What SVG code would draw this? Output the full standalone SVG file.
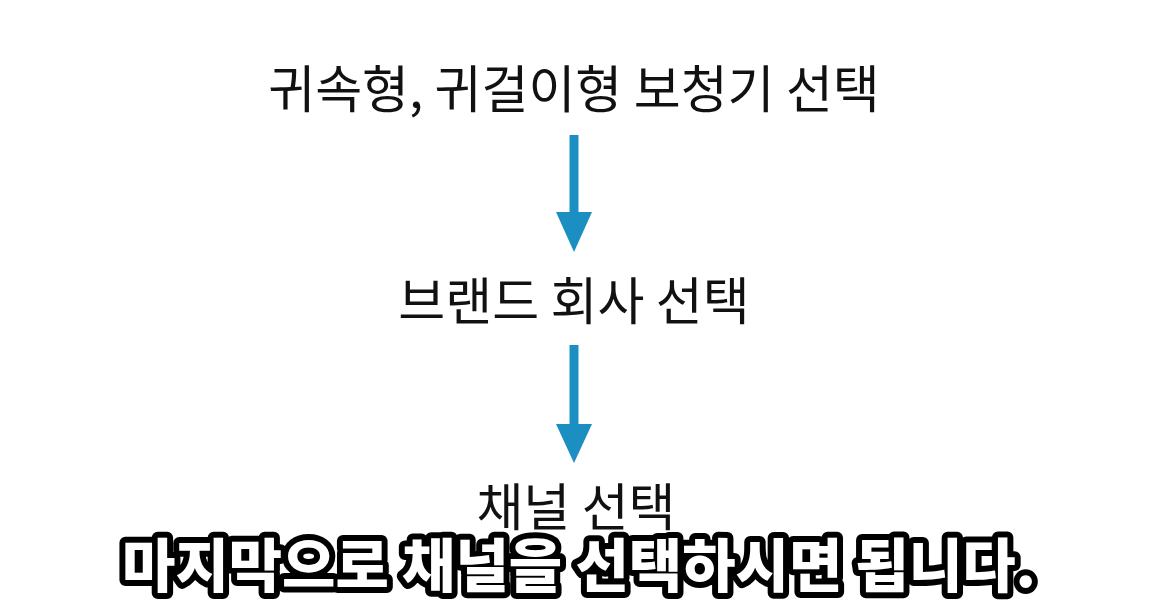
<svg xmlns="http://www.w3.org/2000/svg" width="1160" height="609" viewBox="0 0 1160 609">
<style>
.t{font-family:"Noto Sans CJK KR",sans-serif;font-size:51px;fill:#111;text-anchor:middle}
.a{stroke:#1b8fc2;stroke-width:9;fill:none}
.h{fill:#1b8fc2}
.s{font-family:"Noto Sans CJK KR",sans-serif;font-weight:900;font-size:58px;fill:#fff;stroke:#000;stroke-width:12;paint-order:stroke;stroke-linejoin:round;text-anchor:middle}
</style>
<rect width="1160" height="609" fill="#fff"/>
<g id="n1"><text class="t" x="574" y="108">귀속형, 귀걸이형 보청기 선택</text></g>
<g id="n2"><text class="t" x="574" y="320">브랜드 회사 선택</text></g>
<g id="n3"><text class="t" x="576" y="526">채널 선택</text></g>
<g id="connectors">
<line class="a" x1="574" y1="135" x2="574" y2="218"/><polygon class="h" points="556,212 592,212 574,252"/>
<line class="a" x1="574" y1="345" x2="574" y2="428"/><polygon class="h" points="556,424 592,424 574,463"/>
</g>
<text class="s" x="579" y="587">마지막으로 채널을 선택하시면 됩니다.</text>
</svg>
